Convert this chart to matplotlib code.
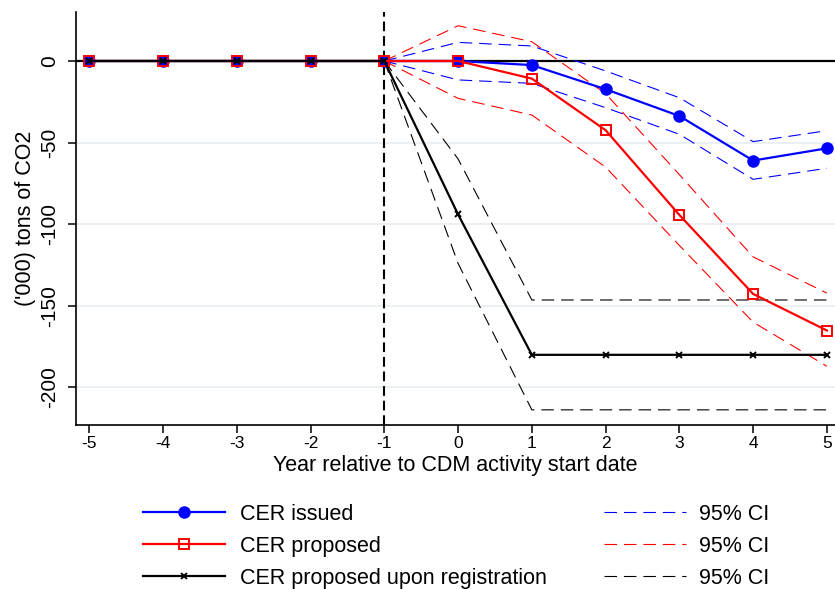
import numpy as np
import matplotlib
matplotlib.use("Agg")
import matplotlib.pyplot as plt

plt.rcParams['font.family'] = ['Liberation Sans', 'DejaVu Sans']
plt.rcParams['lines.scale_dashes'] = False

# event-time axis
years = [-5, -4, -3, -2, -1, 0, 1, 2, 3, 4, 5]

# CER issued and its 95% CI
issued = [0, 0, 0, 0, 0, 0, -2.5, -17.3, -33.7, -61.0, -53.5]
issued_hi = [0, 0, 0, 0, 0, 11.4, 9.2, -6.1, -22.5, -49.4, -42.7]
issued_lo = [0, 0, 0, 0, 0, -11.6, -13.7, -28.6, -44.9, -72.5, -65.7]

# CER proposed and its 95% CI
proposed = [0, 0, 0, 0, 0, 0, -10.8, -42.4, -94.3, -142.7, -165.1]
proposed_hi = [0, 0, 0, 0, 0, 21.6, 11.8, -20.0, -69.6, -120.0, -142.2]
proposed_lo = [0, 0, 0, 0, 0, -22.9, -33.1, -65.0, -113.0, -160.0, -187.0]

# CER proposed upon registration and its 95% CI
registered = [0, 0, 0, 0, 0, -94.0, -180.0, -180.0, -180.0, -180.0, -180.0]
registered_hi = [0, 0, 0, 0, 0, -60.0, -146.4, -146.4, -146.4, -146.4, -146.4]
registered_lo = [0, 0, 0, 0, 0, -124.0, -213.7, -213.7, -213.7, -213.7, -213.7]

yticks = [0, -50, -100, -150, -200]

fig = plt.figure(figsize=(8.35, 5.89), dpi=100)
ax = fig.add_axes([0.091, 0.2784, 0.909, 0.7012])

for y in yticks[1:]:
    ax.axhline(y, color='#e8eef2', lw=1.2, zorder=0)
ax.axhline(0, color='black', lw=1.6, zorder=1)
ax.axvline(-1, color='black', lw=1.5, dashes=(7, 3.5), zorder=1)

ci = (9, 5)
# only draw the CI from -1 onwards (they are zero before)
ax.plot(years[4:], issued_hi[4:], color='blue', lw=0.8, dashes=ci, label='95% CI')
ax.plot(years[4:], issued_lo[4:], color='blue', lw=0.8, dashes=ci)
ax.plot(years[4:], proposed_hi[4:], color='red', lw=0.8, dashes=ci, label='95% CI')
ax.plot(years[4:], proposed_lo[4:], color='red', lw=0.8, dashes=ci)
ax.plot(years[4:], registered_hi[4:], color='black', lw=0.8, dashes=ci, label='95% CI')
ax.plot(years[4:], registered_lo[4:], color='black', lw=0.8, dashes=ci)

ax.plot(years, issued, color='blue', lw=1.6, marker='o', ms=8, label='CER issued')
ax.plot(years, proposed, color='red', lw=1.6, marker='s', ms=6.5,
        mfc='none', mew=1.4, label='CER proposed')
ax.plot(years, registered, color='black', lw=1.6, marker='x', ms=5,
        mew=1.4, label='CER proposed upon registration')

ax.set_xlim(-5.18, 5.11)
ax.set_ylim(-223, 30)
ax.set_xticks(years)
ax.set_xticklabels([str(v) for v in years], fontsize=12.5)
ax.set_yticks(yticks)
ax.set_yticklabels([str(v) for v in yticks], fontsize=15, rotation=90, va='center')
ax.tick_params(axis='y', length=6, width=1.1, pad=6)
ax.tick_params(axis='x', length=6, width=1.1, pad=2)

for side in ['top', 'right']:
    ax.spines[side].set_visible(False)
for side in ['left', 'bottom']:
    ax.spines[side].set_linewidth(1.2)

ax.set_xlabel('Year relative to CDM activity start date', fontsize=15.5, labelpad=3)
ax.set_ylabel("('000) tons of CO2", fontsize=15.5, labelpad=3)

h, lab = ax.get_legend_handles_labels()
leg_style = dict(fontsize=15.5, handlelength=3.8, labelspacing=0.5,
                 frameon=False, borderpad=0, borderaxespad=0, loc='upper left')
fig.legend(h[3:], lab[3:], bbox_to_anchor=(143 / 835, 1 - 504 / 589),
           handletextpad=0.7, **leg_style)
fig.legend(h[:3], lab[:3], bbox_to_anchor=(604 / 835, 1 - 504 / 589),
           handletextpad=0.6, **leg_style)

fig.savefig('out.png', dpi=100)
